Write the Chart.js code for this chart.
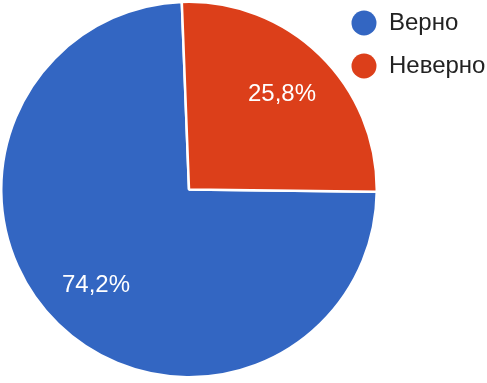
<!DOCTYPE html>
<html>
<head>
<meta charset="utf-8">
<script src="https://cdn.jsdelivr.net/npm/chart.js@4"></script>
<style>
  html, body { margin: 0; padding: 0; background: #fff; }
  #wrap { width: 487px; height: 383px; position: relative; }
</style>
</head>
<body>
<div id="wrap"><canvas id="pie"></canvas></div>
<script>
// данные
const categories = ["Верно", "Неверно"];
const values = [74.2, 25.8];
const labelsText = ["74,2%", "25,8%"];
const colors = ["#3366c2", "#dc3f1a"];

const total = values.reduce((a, b) => a + b, 0);

// подписи процентов внутри секторов
const sliceLabels = {
  id: "sliceLabels",
  afterDatasetsDraw(chart) {
    const ctx = chart.ctx;
    const meta = chart.getDatasetMeta(0);
    ctx.save();
    ctx.font = "24px 'Liberation Sans', Arial, sans-serif";
    ctx.fillStyle = "#fff";
    ctx.textAlign = "center";
    ctx.textBaseline = "middle";
    meta.data.forEach((arc, i) => {
      const p = arc.getProps(["x", "y", "startAngle", "endAngle", "outerRadius"], true);
      const mid = (p.startAngle + p.endAngle) / 2;
      const r = p.outerRadius * 0.71;
      ctx.fillText(labelsText[i], p.x + Math.cos(mid) * r, p.y + Math.sin(mid) * r);
    });
    ctx.restore();
  },
};

// легенда справа сверху
const sideLegend = {
  id: "sideLegend",
  afterDraw(chart) {
    const ctx = chart.ctx;
    ctx.save();
    ctx.font = "24px 'Liberation Sans', Arial, sans-serif";
    ctx.textBaseline = "middle";
    categories.forEach((name, i) => {
      const y = 23 + i * 43;
      ctx.fillStyle = colors[i];
      ctx.beginPath();
      ctx.arc(364, y, 12.5, 0, Math.PI * 2);
      ctx.fill();
      ctx.fillStyle = "#222";
      ctx.fillText(name, 389, y);
    });
    ctx.restore();
  },
};

new Chart(document.getElementById("pie"), {
  type: "pie",
  data: {
    labels: categories,
    datasets: [
      {
        data: values,
        backgroundColor: colors,
        borderColor: "#fff",
        borderWidth: 2.5,
      },
    ],
  },
  options: {
    responsive: true,
    maintainAspectRatio: false,
    animation: false,
    // красный сектор начинается чуть левее вертикали
    rotation: (values[1] / total) * 360 - 2.2,
    layout: { padding: { left: 0, top: 0, right: 109, bottom: 4 } },
    plugins: {
      legend: { display: false },
      tooltip: { enabled: false },
    },
  },
  plugins: [sliceLabels, sideLegend],
});
</script>
</body>
</html>
